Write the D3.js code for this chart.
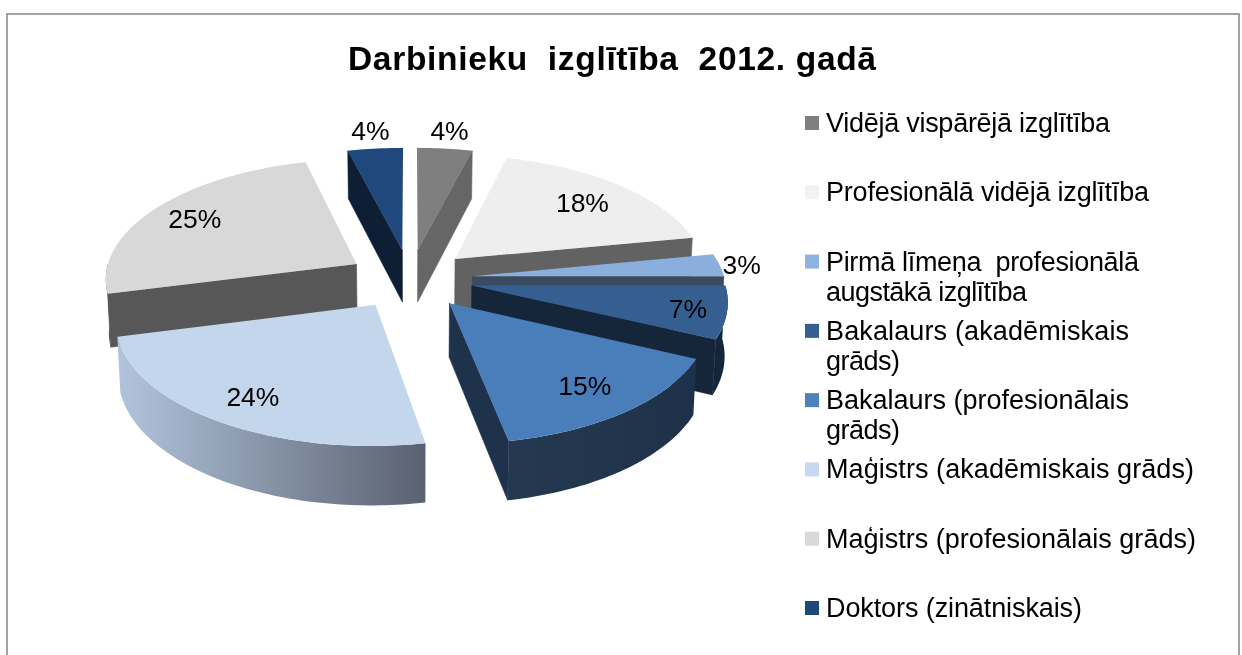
<!DOCTYPE html>
<html lang="lv">
<head>
<meta charset="utf-8">
<script src="https://cdn.jsdelivr.net/npm/d3@7"></script>
<style>
html,body{margin:0;padding:0;background:#fff;overflow:hidden}
svg{display:block;filter:blur(0.45px)}
text{font-family:"Liberation Sans",Arial,sans-serif;fill:#000}
</style>
</head>
<body>
<svg id="chart" width="1242" height="655"></svg>
<script>
const chartTitle = "Darbinieku  izglītība  2012. gadā";
const categories = [
  "Vidējā vispārējā izglītība",
  "Profesionālā vidējā izglītība",
  "Pirmā līmeņa  profesionālā|augstākā izglītība",
  "Bakalaurs (akadēmiskais|grāds)",
  "Bakalaurs (profesionālais|grāds)",
  "Maģistrs (akadēmiskais grāds)",
  "Maģistrs (profesionālais grāds)",
  "Doktors (zinātniskais)"
];
const values = [4, 18, 3, 7, 15, 24, 25, 4];
const topColors = ["#7f7f7f","#eeeeee","#8aafdd","#365f91","#4a7eba","#c3d6ec","#d8d8d8","#1f497d"];
const legendColors = ["#7f7f7f","#f2f2f2","#8db3e2","#365f91","#4f81bd","#c6d9f1","#d9d9d9","#1f497d"];
const wallColors = ["#666666","#626262","#3a4a60","#16263a","#1e324b","#7e8a9c","#575757","#0e1f35"];
const labelRadii = [1.2, 0.76, 1.09, 0.85, 0.78, 0.8, 0.8, 1.2];
const legendLineWidths = [[284],[323],[313,201],[303,74],[303,74],[368],[370],[256]];
const paintOrder = [0, 7, 6, 1, 2, 3, 5, 4];

const svg = d3.select("#chart");
const defs = svg.append("defs");

// frame
svg.append("rect").attr("x",7).attr("y",14).attr("width",1232).attr("height",700)
  .attr("fill","#fff").attr("stroke","#8c8c8c").attr("stroke-width",1.6);

// title
svg.append("text").attr("x",612).attr("y",70).attr("text-anchor","middle")
  .attr("font-size",33.5).attr("font-weight","bold").style("white-space","pre")
  .attr("textLength",528).attr("lengthAdjust","spacing")
  .text(chartTitle);

// pie model: exploded disc in a plane, seen through a perspective projection
const cx = 410, cy = 279;
const rx = 252, ry = 119.5, persp = 0.11;
const explode = 0.25;
const baseScale = 0.99, baseDepth = 53;
const pie = d3.pie().sort(null).value(d => d);
const arcs = pie(values);
const line = d3.line();

function planePoint(a, theta, r) {
  const m = (a.startAngle + a.endAngle) / 2;
  return [explode * Math.sin(m) + r * Math.sin(theta),
          -explode * Math.cos(m) - r * Math.cos(theta)];
}
function topPoint(a, theta, r) {
  const [u, v] = planePoint(a, theta, r), w = 1 - persp * v;
  return [cx + rx * u / w, cy + ry * v / w];
}
function bottomPoint(a, theta, r) {
  const [u, v] = planePoint(a, theta, r), w = 1 - persp * v;
  return [cx + baseScale * rx * u / w, cy + baseScale * ry * v / w + baseDepth / w];
}
function angles(s, e) {
  const n = Math.max(2, Math.ceil((e - s) / 0.02));
  return d3.range(n + 1).map(i => s + (e - s) * i / n);
}
const pieG = svg.append("g");
paintOrder.forEach(i => {
  const a = arcs[i], s = a.startAngle, e = a.endAngle;
  const g = pieG.append("g");
  const radial = t => [topPoint(a,t,0), topPoint(a,t,1), bottomPoint(a,t,1), bottomPoint(a,t,0)];
  const wall = (pts, fill) => g.append("path").attr("d", line(pts) + "Z")
    .attr("fill", fill).attr("stroke", fill).attr("stroke-width", 0.6);
  if (Math.sin(s) < -1e-6) wall(radial(s), wallColors[i]);
  if (Math.sin(e) > 1e-6)  wall(radial(e), wallColors[i]);
  // outer wall: only the front-facing part of the rim
  const fs = Math.max(s, Math.PI / 2), fe = Math.min(e, 3 * Math.PI / 2);
  if (fe > fs) {
    const ang = angles(fs, fe);
    const pts = ang.map(t => topPoint(a,t,1)).concat(ang.slice().reverse().map(t => bottomPoint(a,t,1)));
    const xs = pts.map(p => p[0]);
    const id = "rim" + i;
    const stops = i === 5 ? ["#b2c4dc","#5a6170"] : i === 4 ? ["#24394f","#1e314a"] : [wallColors[i], wallColors[i]];
    const grad = defs.append("linearGradient").attr("id", id).attr("gradientUnits","userSpaceOnUse")
      .attr("x1", d3.min(xs)).attr("x2", d3.max(xs)).attr("y1",0).attr("y2",0);
    grad.append("stop").attr("offset",0).attr("stop-color",stops[0]);
    grad.append("stop").attr("offset",1).attr("stop-color",stops[1]);
    g.append("path").attr("d", line(pts) + "Z").attr("fill", `url(#${id})`);
  }
  // top face
  const top = [topPoint(a,s,0)].concat(angles(s,e).map(t => topPoint(a,t,1)));
  g.append("path").attr("d", line(top) + "Z").attr("fill", topColors[i]);
});

// percent labels
const total = d3.sum(values);
svg.append("g").selectAll("text").data(arcs).join("text")
  .attr("font-size",26.5).attr("text-anchor","middle").attr("dy","0.36em")
  .attr("x",(a,i)=>topPoint(a,(a.startAngle+a.endAngle)/2,labelRadii[i])[0])
  .attr("y",(a,i)=>topPoint(a,(a.startAngle+a.endAngle)/2,labelRadii[i])[1])
  .text(a=>d3.format(".0%")(a.value/total));

// legend
const legendY = d3.scaleLinear().domain([0, categories.length-1]).range([123, 608]);
const legend = svg.append("g").selectAll("g").data(categories).join("g")
  .attr("transform",(d,i)=>`translate(805,${legendY(i)})`);
legend.append("rect").attr("x",0).attr("y",-7).attr("width",14).attr("height",14)
  .attr("fill",(d,i)=>legendColors[i]);
legend.each(function(d,i){
  d3.select(this).selectAll("text").data(d.split("|")).join("text")
    .attr("x",21).attr("y",(l,j)=>9+j*30).attr("font-size",27)
    .style("white-space","pre")
    .attr("textLength",(l,j)=>legendLineWidths[i][j]).attr("lengthAdjust","spacing")
    .text(l=>l);
});
</script>
</body>
</html>
